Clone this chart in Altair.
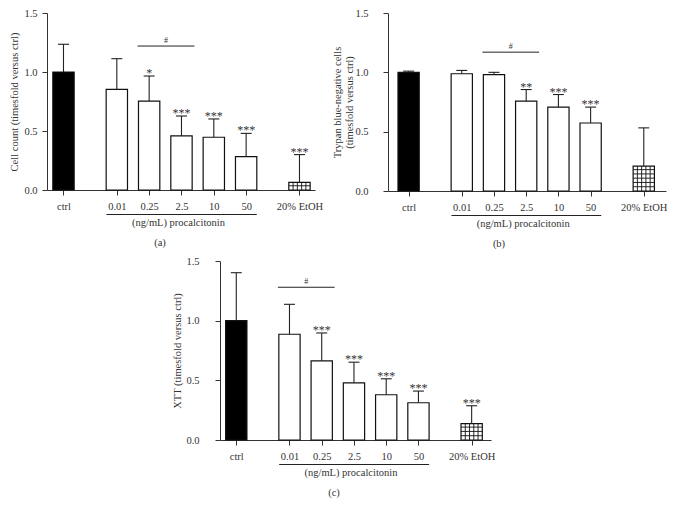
import altair as alt
import pandas as pd

# ---- data ----
groups = ["ctrl", "0.01", "0.25", "2.5", "10", "50", "20% EtOH"]
positions = [0, 1.65, 2.65, 3.65, 4.65, 5.65, 7.3]
kinds = ["ctrl", "pct", "pct", "pct", "pct", "pct", "etoh"]

cell_mean = [1.0, 0.853, 0.754, 0.458, 0.447, 0.282, 0.065]
cell_err = [1.235, 1.113, 0.966, 0.627, 0.602, 0.48, 0.30]
cell_stars = ["", "", "*", "***", "***", "***", "***"]

trypan_mean = [1.0, 0.988, 0.98, 0.757, 0.707, 0.573, 0.209]
trypan_err = [1.01, 1.016, 1.0, 0.855, 0.813, 0.707, 0.532]
trypan_stars = ["", "", "", "**", "***", "***", ""]

xtt_mean = [1.0, 0.886, 0.663, 0.479, 0.379, 0.312, 0.137]
xtt_err = [1.402, 1.137, 0.897, 0.652, 0.513, 0.41, 0.287]
xtt_stars = ["", "", "***", "***", "***", "***", "***"]

hash_pairs = {"a": (2, 3), "b": (2, 3), "c": (1, 2)}
hash_levels = {"a": 1.22, "b": 1.17, "c": 1.28}

y_ticks = [0, 0.5, 1.0, 1.5]
x_label = "(ng/mL) procalcitonin"

FONT = "Liberation Serif"
INK = "#333333"
HALF = 0.33   # half bar width (x units)
CAP = 0.17    # half cap width

label_expr = " : ".join(
    f"datum.value == {p} ? '{g}'" for p, g in zip(positions, groups)
) + " : ''"


def panel(mean, err, stars, key, ytitle, width, height, dom, ylabpad, ytitlepad, letter, letter_x):
    df = pd.DataFrame({
        "group": groups, "pos": positions, "kind": kinds,
        "mean": mean, "err": err, "stars": stars,
    })
    df["left"] = df["pos"] - HALF
    df["right"] = df["pos"] + HALF
    df["capl"] = df["pos"] - CAP
    df["capr"] = df["pos"] + CAP

    xs = alt.Scale(domain=dom, nice=False, zero=False)
    ys = alt.Scale(domain=[0, 1.5], nice=False)
    xa = alt.Axis(values=positions, labelExpr=label_expr, title=None, grid=False,
                  tickSize=5, labelPadding=6, labelFlush=False, labelOverlap=False)
    ya = alt.Axis(values=y_ticks, format=".1f", title=ytitle, grid=False,
                  tickSize=5, labelPadding=ylabpad, titlePadding=ytitlepad)

    def X(f):
        return alt.X(f, scale=xs, axis=xa)

    def Y(f):
        return alt.Y(f, scale=ys, axis=ya)

    base = alt.Chart(df)

    bars = base.mark_bar(stroke="#111111", strokeWidth=1.2).encode(
        x=X("left:Q"), x2="right:Q",
        y=Y("mean:Q"), y2=alt.datum(0),
        fill=alt.Fill("kind:N", scale=alt.Scale(
            domain=["ctrl", "pct", "etoh"], range=["#000000", "#ffffff", "#ffffff"]),
            legend=None),
    )

    # grid hatch inside the EtOH bar
    et = df[df["kind"] == "etoh"].iloc[0]
    vlines = pd.DataFrame({"x": [et["pos"] - HALF + k * (2 * HALF / 5) for k in range(1, 5)]})
    vlines["top"] = et["mean"]
    step = 0.036
    hl = []
    lv = step
    while lv < et["mean"] - 0.01:
        hl.append(lv)
        lv += step
    hlines = pd.DataFrame({"y": hl, "l": et["pos"] - HALF, "r": et["pos"] + HALF})
    hatch_v = alt.Chart(vlines).mark_rule(color="#111111", strokeWidth=0.9).encode(
        x=X("x:Q"), y=Y("top:Q"), y2=alt.datum(0))
    layers = [bars, hatch_v]
    if len(hlines):
        hatch_h = alt.Chart(hlines).mark_rule(color="#111111", strokeWidth=0.9).encode(
            x=X("l:Q"), x2="r:Q", y=Y("y:Q"))
        layers.append(hatch_h)

    ebar = base.mark_rule(color="#222222", strokeWidth=1.1).encode(
        x=X("pos:Q"), y=Y("mean:Q"), y2="err:Q")
    ecap = base.mark_rule(color="#222222", strokeWidth=1.1).encode(
        x=X("capl:Q"), x2="capr:Q", y=Y("err:Q"))
    star = base.mark_text(font=FONT, fontSize=12, color=INK, baseline="alphabetic", dy=1).encode(
        x=X("pos:Q"), y=Y("err:Q"), text="stars:N")

    i0, i1 = hash_pairs[key]
    hdf = pd.DataFrame({"l": [positions[i0] - 0.36], "r": [positions[i1] + 0.4],
                        "c": [(positions[i0] + positions[i1]) / 2 + 0.02],
                        "y": [hash_levels[key]], "t": ["#"]})
    hrule = alt.Chart(hdf).mark_rule(color="#222222", strokeWidth=1).encode(
        x=X("l:Q"), x2="r:Q", y=Y("y:Q"))
    htext = alt.Chart(hdf).mark_text(font=FONT, fontSize=8, color=INK, baseline="alphabetic", dy=-3).encode(
        x=X("c:Q"), y=Y("y:Q"), text="t:N")

    bdf = pd.DataFrame({"l": [positions[1] - 0.32], "r": [positions[5] + 0.33],
                        "c": [(positions[1] + positions[5]) / 2], "t": [x_label]})
    bracket = alt.Chart(bdf).mark_rule(color="#222222", strokeWidth=1).encode(
        x=X("l:Q"), x2="r:Q", y=alt.value(height + 24.5))
    btext = alt.Chart(bdf).mark_text(font=FONT, fontSize=10.5, color=INK, baseline="middle", dx=-3).encode(
        x=X("c:Q"), y=alt.value(height + 33), text="t:N")
    ldf = pd.DataFrame({"t": [letter]})
    ltext = alt.Chart(ldf).mark_text(font=FONT, fontSize=10.5, color=INK, baseline="middle").encode(
        x=alt.value(letter_x), y=alt.value(height + 53), text="t:N")

    layers += [ebar, ecap, star, hrule, htext, bracket, btext, ltext]
    return alt.layer(*layers).properties(width=width, height=height)


pa = panel(cell_mean, cell_err, cell_stars, "a", "Cell count (timesfold versus ctrl)",
           268, 177, [-0.51, 7.78], 5, 4, "(a)", 113)
pb = panel(trypan_mean, trypan_err, trypan_stars, "b",
           ["Trypan blue-negative cells", "(timesfold versus ctrl)"],
           278, 178, [-0.64, 7.99], 15, 0, "(b)", 111)
pc = panel(xtt_mean, xtt_err, xtt_stars, "c", "XTT (timesfold versus ctrl)",
           271, 179, [-0.505, 7.9], 16, 3, "(c)", 114)

spacer = alt.Chart(pd.DataFrame({"v": [0]})).mark_point(opacity=0).encode(
    x=alt.value(0), y=alt.value(0)).properties(width=152, height=10)

top = alt.hconcat(pa, pb, spacing=73, bounds="flush")
bottom = alt.hconcat(spacer, pc, spacing=21, bounds="flush")

chart = alt.vconcat(top, bottom, spacing=6).properties(
    padding={"left": 1, "top": 0, "right": 0, "bottom": 0}
).configure_view(stroke=None).configure_axis(
    domainColor=INK, tickColor=INK, labelColor=INK, titleColor=INK,
    labelFont=FONT, titleFont=FONT, labelFontSize=10.5, titleFontSize=10.5,
    titleFontWeight="normal", domainWidth=1, tickWidth=1,
)

chart.save("out.html", embed_options={"renderer": "svg", "actions": False})
